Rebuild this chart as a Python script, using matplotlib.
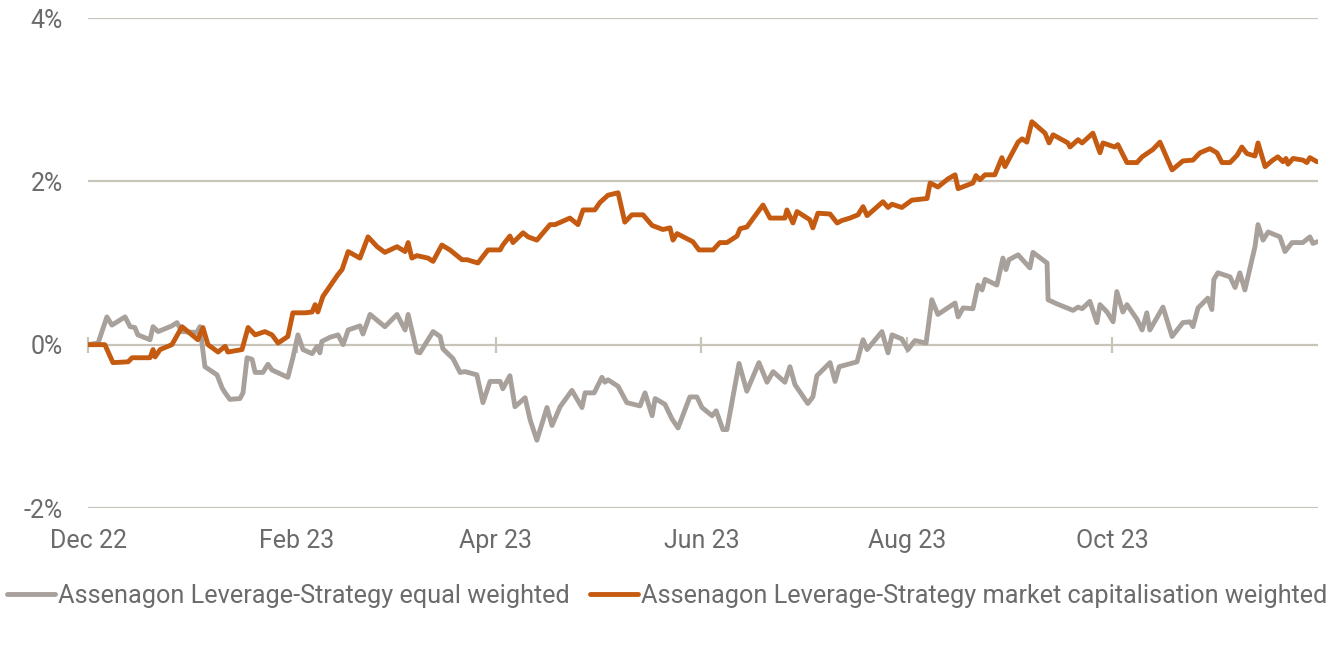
import numpy as np
import pandas as pd
import matplotlib
matplotlib.use('Agg')
import matplotlib.pyplot as plt

plt.rcParams['font.family'] = ['Roboto', 'DejaVu Sans']

# x = days since 2022-12-01, y = performance in %
start = pd.Timestamp('2022-12-01')
month_ticks = ['2022-12-01', '2023-02-01', '2023-04-01', '2023-06-01', '2023-08-01', '2023-10-01']
month_labels = ['Dec 22', 'Feb 23', 'Apr 23', 'Jun 23', 'Aug 23', 'Oct 23']

ew_days = [0, 3.0, 5.6, 7.1, 11.0, 12.5, 13.9, 14.8, 18.4, 19.3, 20.8, 24.9, 26.4, 27.9, 32.3, 33.2,
           34.7, 38.3, 39.8, 40.7, 42.1, 45.1, 46.0, 47.2, 48.7, 49.6, 51.9, 53.4, 54.6, 59.3, 60.8,
           62.3, 63.8, 66.5, 68.0, 68.8, 69.4, 71.8, 74.2, 75.7, 77.2, 80.7, 81.6, 83.7, 88.1, 91.7,
           94.1, 95.0, 97.6, 98.5, 102.4, 104.5, 105.3, 108.3, 110.4, 111.9, 115.4, 117.2, 119.3,
           122.3, 123.1, 125.2, 126.7, 129.7, 131.2, 133.2, 136.2, 137.7, 140.1, 143.6, 146.6, 147.5,
           150.2, 152.5, 153.4, 154.3, 157.3, 159.9, 163.8, 165.3, 167.4, 168.3, 171.2, 173.3, 175.1,
           178.6, 180.7, 182.2, 185.2, 186.4, 188.4, 189.6, 193.2, 195.5, 199.1, 201.5, 203.3, 206.8,
           208.3, 209.8, 213.6, 215.1, 216.3, 220.2, 221.7, 222.9, 225.5, 228.2, 230.0, 231.2, 235.6,
           237.4, 238.6, 241.5, 243.3, 245.4, 248.7, 250.4, 252.2, 257.3, 258.2, 259.7, 262.6, 264.1,
           265.3, 266.2, 269.7, 271.5, 272.4, 273.3, 276.0, 279.5, 280.4, 284.6, 284.9, 287.5, 292.3,
           293.8, 295.0, 297.3, 299.4, 300.3, 302.4, 304.2, 305.3, 307.1, 308.3, 311.3, 312.8, 314.2,
           315.1, 319.0, 321.7, 324.9, 327.0, 327.9, 329.4, 332.3, 333.5, 334.1, 335.3, 338.9, 340.4,
           341.8, 343.3, 346.3, 347.2, 348.7, 350.2, 353.7, 355.2, 357.3, 360.5, 362.6, 363.5, 364.7]
ew_vals = [0.00, 0.02, 0.34, 0.24, 0.34, 0.22, 0.21, 0.12, 0.06, 0.22, 0.16, 0.23, 0.27, 0.16, 0.15, 0.22,
           -0.27, -0.37, -0.53, -0.59, -0.67, -0.66, -0.59, -0.16, -0.18, -0.34, -0.34, -0.24, -0.31, -0.40, -0.16,
           0.12, -0.06, -0.11, -0.02, -0.10, 0.04, 0.09, 0.12, 0.00, 0.18, 0.23, 0.13, 0.37, 0.22, 0.37,
           0.18, 0.37, -0.09, -0.10, 0.16, 0.10, -0.05, -0.17, -0.34, -0.33, -0.37, -0.71, -0.45,
           -0.45, -0.54, -0.38, -0.76, -0.65, -0.92, -1.17, -0.77, -0.99, -0.76, -0.56, -0.77, -0.59,
           -0.59, -0.40, -0.46, -0.43, -0.51, -0.71, -0.75, -0.59, -0.87, -0.66, -0.73, -0.91, -1.02,
           -0.64, -0.64, -0.77, -0.87, -0.81, -1.04, -1.04, -0.23, -0.57, -0.22, -0.46, -0.33, -0.46,
           -0.27, -0.49, -0.72, -0.64, -0.38, -0.22, -0.45, -0.27, -0.24, -0.21, 0.06, -0.06, 0.16,
           -0.10, 0.12, 0.07, -0.06, 0.05, 0.02, 0.55, 0.37, 0.51, 0.34, 0.45, 0.44, 0.73,
           0.67, 0.80, 0.73, 1.06, 0.92, 1.04, 1.10, 0.94, 1.13, 1.00, 0.55, 0.50, 0.42,
           0.46, 0.44, 0.53, 0.27, 0.49, 0.40, 0.28, 0.65, 0.40, 0.49, 0.31, 0.18, 0.39,
           0.18, 0.46, 0.10, 0.27, 0.28, 0.22, 0.45, 0.57, 0.43, 0.80, 0.88, 0.83, 0.70,
           0.88, 0.67, 1.20, 1.47, 1.28, 1.38, 1.32, 1.14, 1.25, 1.25, 1.32, 1.24, 1.26]

mcw_days = [0, 5.0, 7.4, 11.9, 13.1, 18.4, 19.3, 19.9, 21.4, 24.9, 27.9, 32.6, 34.1, 35.6, 38.6, 40.7,
            41.5, 45.7, 47.5, 49.6, 52.5, 54.6, 56.4, 59.3, 60.8, 64.4, 66.5, 67.4, 68.2, 69.7, 74.2,
            75.4, 77.2, 80.7, 83.1, 85.8, 88.1, 91.7, 94.1, 95.0, 96.1, 97.6, 100.9, 102.4, 105.0,
            107.4, 111.0, 112.5, 115.7, 118.7, 122.3, 123.1, 125.2, 126.1, 129.1, 130.6, 133.2, 137.1,
            138.6, 143.0, 145.4, 146.9, 150.4, 151.9, 154.3, 157.3, 159.3, 161.4, 164.7, 167.4, 170.6,
            172.7, 173.6, 174.8, 179.5, 181.3, 185.5, 187.5, 189.6, 192.6, 193.5, 195.5, 200.3, 202.4,
            206.8, 207.4, 209.2, 210.4, 214.2, 215.1, 216.6, 220.2, 222.3, 223.7, 226.1, 228.5, 230.0,
            231.2, 235.9, 237.4, 238.6, 241.5, 244.5, 249.0, 249.9, 252.2, 255.2, 257.3, 258.2, 262.6,
            263.5, 264.7, 266.2, 269.1, 271.2, 272.1, 276.0, 277.2, 278.6, 280.1, 284.0, 285.2, 286.4,
            290.8, 291.4, 293.8, 295.0, 298.2, 300.3, 301.2, 304.7, 305.6, 308.3, 311.3, 312.8, 316.0,
            318.1, 321.7, 322.6, 324.9, 327.9, 330.0, 332.9, 335.0, 336.5, 338.9, 341.0, 342.4, 343.9,
            346.3, 347.2, 349.3, 351.6, 353.1, 354.6, 355.5, 356.1, 357.6, 360.5, 361.7, 362.6, 364.7]
mcw_vals = [0.00, 0.00, -0.22, -0.21, -0.16, -0.16, -0.06, -0.15, -0.06, 0.00, 0.22, 0.06, 0.21, 0.00, -0.09, -0.02,
            -0.09, -0.06, 0.21, 0.12, 0.16, 0.12, 0.02, 0.10, 0.39, 0.39, 0.40, 0.49, 0.40, 0.59, 0.86,
            0.92, 1.14, 1.06, 1.32, 1.20, 1.13, 1.20, 1.14, 1.25, 1.06, 1.09, 1.06, 1.02, 1.22,
            1.16, 1.04, 1.04, 1.00, 1.16, 1.16, 1.22, 1.33, 1.25, 1.37, 1.32, 1.28, 1.47,
            1.47, 1.55, 1.47, 1.65, 1.65, 1.74, 1.83, 1.86, 1.50, 1.59, 1.59, 1.46, 1.41,
            1.43, 1.28, 1.36, 1.26, 1.16, 1.16, 1.25, 1.25, 1.33, 1.42, 1.44, 1.71, 1.55,
            1.55, 1.65, 1.49, 1.63, 1.53, 1.43, 1.61, 1.60, 1.49, 1.52, 1.55, 1.59, 1.69,
            1.58, 1.75, 1.68, 1.72, 1.68, 1.77, 1.79, 1.98, 1.93, 2.03, 2.08, 1.91, 1.98,
            2.07, 2.02, 2.08, 2.08, 2.29, 2.18, 2.48, 2.52, 2.48, 2.73, 2.59, 2.47, 2.57,
            2.47, 2.42, 2.51, 2.47, 2.59, 2.35, 2.47, 2.42, 2.45, 2.23, 2.23, 2.30, 2.39,
            2.48, 2.14, 2.17, 2.25, 2.26, 2.35, 2.40, 2.35, 2.23, 2.23, 2.32, 2.42, 2.34,
            2.31, 2.47, 2.18, 2.26, 2.30, 2.24, 2.28, 2.21, 2.28, 2.26, 2.23, 2.29, 2.24]

ew_label = 'Assenagon Leverage-Strategy equal weighted'
mcw_label = 'Assenagon Leverage-Strategy market capitalisation weighted'

grey = '#A8A09B'
orange = '#C55A11'
grid_col = '#C8C4B9'
text_col = '#6B6B6B'

fig = plt.figure(figsize=(13.35, 6.46), dpi=100)
ax = fig.add_axes([88 / 1335, 1 - 508 / 646, (1318 - 88) / 1335, (508 - 18) / 646])

ax.plot(ew_days, ew_vals, color=grey, lw=3.5, solid_joinstyle='round', solid_capstyle='round', label=ew_label, zorder=3)
ax.plot(mcw_days, mcw_vals, color=orange, lw=3.5, solid_joinstyle='round', solid_capstyle='round', label=mcw_label, zorder=4)

ax.set_xlim(0, 365)
ax.set_ylim(-2, 4)
ax.set_yticks([-2, 0, 2, 4])
ax.set_yticklabels(['-2%', '0%', '2%', '4%'])
for v in [-2, 0, 2, 4]:
    ax.axhline(v, color=grid_col, lw=1.6, zorder=1)

tick_pos = [(pd.Timestamp(d) - start).days for d in month_ticks]
ax.set_xticks(tick_pos)
ax.set_xticklabels(month_labels)

for s in ax.spines.values():
    s.set_visible(False)
ax.tick_params(axis='both', length=0, labelsize=18, colors=text_col)
ax.tick_params(axis='x', pad=15)
ax.tick_params(axis='y', pad=18)

# small tick marks on the zero line
sec = ax.secondary_xaxis(1 / 3)
sec.set_xticks(tick_pos)
sec.set_xticklabels([])
sec.spines['bottom'].set_visible(False)
sec.spines['top'].set_visible(False)
sec.tick_params(direction='inout', length=12, width=1.6, color=grid_col)

fig.legend(loc='center', bbox_to_anchor=(0.5, 1 - 596 / 646), ncol=2, frameon=False,
           fontsize=18.2, labelcolor=text_col, handlelength=1.9, handletextpad=0.12, columnspacing=0.8)

fig.savefig('out.png', dpi=100)
